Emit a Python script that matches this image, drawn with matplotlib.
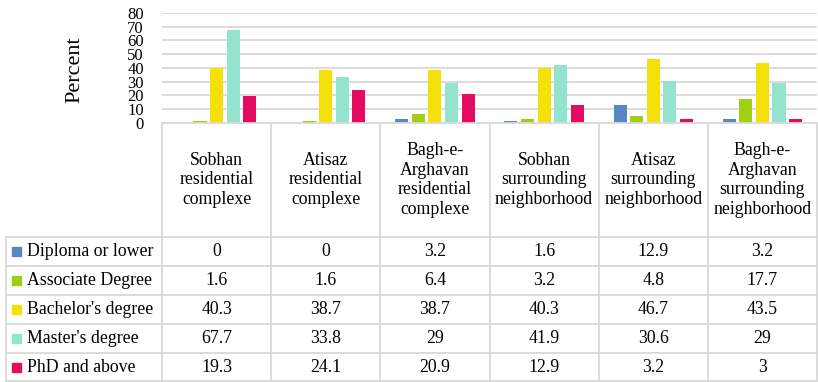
import numpy as np
import matplotlib
matplotlib.use('Agg')
import matplotlib.pyplot as plt
from matplotlib.patches import Rectangle

plt.rcParams['font.family'] = ['Liberation Serif', 'DejaVu Serif']

# data
categories = ['Sobhan\nresidential\ncomplexe',
              'Atisaz\nresidential\ncomplexe',
              'Bagh-e-\nArghavan\nresidential\ncomplexe',
              'Sobhan\nsurrounding\nneighborhood',
              'Atisaz\nsurrounding\nneighborhood',
              'Bagh-e-\nArghavan\nsurrounding\nneighborhood']
series_names = ['Diploma or lower', 'Associate Degree', "Bachelor's degree",
                "Master's degree", 'PhD and above']
diploma = [0, 0, 3.2, 1.6, 12.9, 3.2]
associate = [1.6, 1.6, 6.4, 3.2, 4.8, 17.7]
bachelor = [40.3, 38.7, 38.7, 40.3, 46.7, 43.5]
master = [67.7, 33.8, 29, 41.9, 30.6, 29]
phd = [19.3, 24.1, 20.9, 12.9, 3.2, 3]
series_values = [diploma, associate, bachelor, master, phd]
colors = ['#5b86c5', '#9fcf10', '#f5e10a', '#93e3cf', '#e50b60']
yticks = [0, 10, 20, 30, 40, 50, 60, 70, 80]

W, H = 818, 382
grid_col = '#d9d9d9'

fig = plt.figure(figsize=(W / 100, H / 100), dpi=100)

# bar plot area in pixels
px0, px1 = 162, 817
py_top, py_zero = 13, 123
ax = fig.add_axes([px0 / W, 1 - py_zero / H, (px1 - px0) / W, (py_zero - py_top) / H])

x = np.arange(len(categories))
pitch = 0.152
bw = 0.12
for i, vals in enumerate(series_values):
    ax.bar(x + (i - 2) * pitch, vals, width=bw, color=colors[i], zorder=3)

ax.set_xlim(-0.5, len(categories) - 0.5)
ax.set_ylim(0, 80)
ax.set_yticks(yticks)
ax.set_yticklabels([str(t) for t in yticks], fontsize=12)
ax.tick_params(axis='y', length=0, pad=13)
ax.set_xticks([])
ax.grid(axis='y', color=grid_col, linewidth=1.3, zorder=0)
for s in ax.spines.values():
    s.set_visible(False)

fig.text(75 / W, 1 - 70 / H, 'Percent', rotation=90, fontsize=16,
         ha='center', va='center')

# table overlay in pixel coordinates
tab = fig.add_axes([0, 0, 1, 1])
tab.set_xlim(0, W)
tab.set_ylim(H, 0)
tab.axis('off')

colw = (px1 - px0) / len(categories)
col_edges = [px0 + k * colw for k in range(len(categories) + 1)]
head_bottom = 237
row_h = 29
row_edges = [head_bottom + k * row_h for k in range(len(series_names) + 1)]
row_edges[-1] = 381
left_x = 6

lw = 1.3
# header row verticals
for xe in col_edges:
    tab.plot([xe, xe], [py_zero, row_edges[-1]], color=grid_col, lw=lw)
tab.plot([left_x, left_x], [head_bottom, row_edges[-1]], color=grid_col, lw=lw)
tab.plot([px0, px1], [py_zero, py_zero], color=grid_col, lw=lw)
for ye in row_edges:
    tab.plot([left_x, px1], [ye, ye], color=grid_col, lw=lw)

for k, cat in enumerate(categories):
    cx = (col_edges[k] + col_edges[k + 1]) / 2
    tab.text(cx, 180, cat, ha='center', va='center', fontsize=12.8,
             linespacing=1.2)

for r, name in enumerate(series_names):
    cy = (row_edges[r] + row_edges[r + 1]) / 2
    tab.add_patch(Rectangle((12, cy - 4.5), 9, 9, color=colors[r]))
    tab.text(27, cy, name, ha='left', va='center', fontsize=12.8)
    for k, v in enumerate(series_values[r]):
        cx = (col_edges[k] + col_edges[k + 1]) / 2
        tab.text(cx, cy, f'{v:g}', ha='center', va='center', fontsize=12.8)

fig.savefig('out.png', dpi=100)
